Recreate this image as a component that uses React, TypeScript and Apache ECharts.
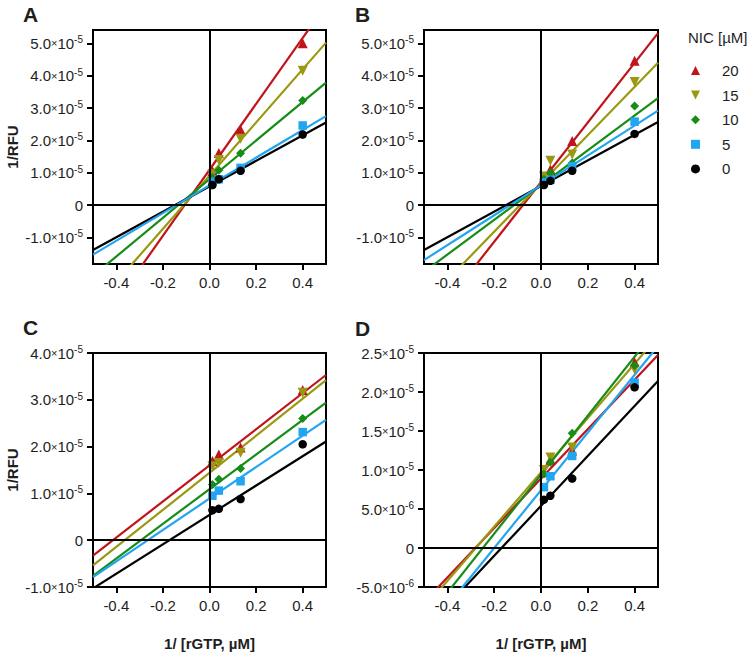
import React, { useEffect, useRef } from 'react';
import * as echarts from 'echarts';

// x positions: 1/[rGTP, µM]
const xValues = [0.0125, 0.04, 0.1333, 0.4];
const xTicks = [-0.4, -0.2, 0, 0.2, 0.4];
const xRange = [-0.5, 0.5];

// legend / series levels (NIC µM)
const nicLevels = ['20', '15', '10', '5', '0'];
const colors = ['#C0141C', '#999911', '#178C17', '#22A5F0', '#000000'];
const symbols = ['triangle', 'triangle', 'diamond', 'rect', 'circle'];
const symbolRotates = [0, 180, 0, 0, 0];
const symbolSizes = [10, 10, 9, 8.5, 8.5];
const legendIcons = ['triangle', 'path://M0,0L10,0L5,10Z', 'diamond', 'rect', 'circle'];

// 1/RFU values in units of 1e-5, one row per NIC level (20, 15, 10, 5, 0)
const panelAValues = [
  [1.05, 1.61, 2.33, 5.0],
  [0.95, 1.39, 2.05, 4.15],
  [0.85, 1.08, 1.6, 3.23],
  [0.72, 0.8, 1.15, 2.46],
  [0.62, 0.8, 1.06, 2.18],
];
const panelBValues = [
  [0.85, 1.1, 1.98, 4.46],
  [0.88, 1.37, 1.56, 3.8],
  [0.8, 1.0, 1.3, 3.06],
  [0.7, 0.78, 1.2, 2.58],
  [0.62, 0.75, 1.06, 2.2],
];
const panelCValues = [
  [1.69, 1.83, 1.98, 3.21],
  [1.58, 1.65, 1.87, 3.15],
  [1.19, 1.3, 1.53, 2.6],
  [0.95, 1.06, 1.26, 2.31],
  [0.64, 0.67, 0.88, 2.05],
];
const panelDValues = [
  [0.97, 1.13, 1.25, 2.38],
  [1.0, 1.16, 1.29, 2.29],
  [0.95, 1.1, 1.47, 2.34],
  [0.78, 0.92, 1.18, 2.12],
  [0.62, 0.67, 0.89, 2.06],
];

// fitted lines [slope, intercept] in units of 1e-5
const panelAFits = [[10.19, 1.09], [8.22, 0.91], [5.97, 0.8], [4.28, 0.61], [3.94, 0.58]];
const panelBFits = [[9.21, 0.71], [7.46, 0.67], [5.37, 0.62], [4.62, 0.61], [3.96, 0.59]];
const panelCFits = [[3.86, 1.6], [3.96, 1.44], [3.7, 1.09], [3.36, 0.89], [3.14, 0.54]];
const panelDFits = [[3.17, 0.89], [3.48, 0.97], [3.78, 0.94], [3.7, 0.74], [3.2, 0.54]];

// y axis ranges and ticks (units of 1e-5)
const yRangeAB = [-1.82, 5.41];
const yTicksAB = [-1, 0, 1, 2, 3, 4, 5];
const yRangeC = [-1, 4];
const yTicksC = [-1, 0, 1, 2, 3, 4];
const yRangeD = [-0.5, 2.5];
const yTicksD = [-0.5, 0, 0.5, 1, 1.5, 2, 2.5];

const panelLetters = ['A', 'B', 'C', 'D'];
const yTitle = '1/RFU';
const xTitle = '1/ [rGTP, µM]';
const legendTitle = 'NIC [µM]';

const FONT = "'Liberation Sans', Arial, Helvetica, sans-serif";
const TEXT = '#1e1e1e';

const panels = [
  { values: panelAValues, fits: panelAFits, yRange: yRangeAB, yTicks: yTicksAB, grid: { left: 93, top: 30, width: 233, height: 234 } },
  { values: panelBValues, fits: panelBFits, yRange: yRangeAB, yTicks: yTicksAB, grid: { left: 424, top: 30, width: 234, height: 234 } },
  { values: panelCValues, fits: panelCFits, yRange: yRangeC, yTicks: yTicksC, grid: { left: 93, top: 353, width: 233, height: 234 } },
  { values: panelDValues, fits: panelDFits, yRange: yRangeD, yTicks: yTicksD, grid: { left: 424, top: 353, width: 234, height: 234 } },
];

const lineDrawOrder = [0, 1, 2, 4, 3];

function yLabel(v: number): string {
  if (Math.abs(v) < 1e-9) return '{m|0}';
  let mant = v;
  let exp = -5;
  if (Math.abs(v) < 1) {
    mant = v * 10;
    exp = -6;
  }
  return `{m|${mant.toFixed(1)}}{x|×}{m|10}{s|${exp}}`;
}

export default function App() {
  const ref = useRef<HTMLDivElement>(null);

  useEffect(() => {
    if (!ref.current) return;
    const chart = echarts.init(ref.current, null, { renderer: 'svg' });

    const grids: any[] = [];
    const xAxes: any[] = [];
    const yAxes: any[] = [];
    const series: any[] = [];

    panels.forEach((panel, p) => {
      grids.push({
        ...panel.grid,
        show: true,
        borderColor: '#000',
        borderWidth: 2,
        backgroundColor: 'transparent',
        containLabel: false,
      });
      xAxes.push({
        type: 'value',
        gridIndex: p,
        min: xRange[0],
        max: xRange[1],
        axisLine: { show: false, onZero: false },
        splitLine: { show: false },
        axisTick: { show: true, length: 6, lineStyle: { color: '#000', width: 2 }, customValues: xTicks },
        axisLabel: {
          customValues: xTicks,
          margin: 11,
          fontSize: 15,
          color: TEXT,
          fontFamily: FONT,
          formatter: (v: number) => v.toFixed(1),
        },
      });
      yAxes.push({
        type: 'value',
        gridIndex: p,
        min: panel.yRange[0],
        max: panel.yRange[1],
        axisLine: { show: false, onZero: false },
        splitLine: { show: false },
        axisTick: { show: true, length: 6, lineStyle: { color: '#000', width: 2 }, customValues: panel.yTicks },
        axisLabel: {
          customValues: panel.yTicks,
          margin: 10,
          color: TEXT,
          fontFamily: FONT,
          formatter: (v: number) => yLabel(v),
          rich: {
            m: { fontSize: 15, color: TEXT, fontFamily: FONT, lineHeight: 17 },
            x: { fontSize: 11, color: TEXT, fontFamily: FONT, lineHeight: 17 },
            s: { fontSize: 10, color: TEXT, fontFamily: FONT, verticalAlign: 'top', lineHeight: 10 },
          },
        },
      });

      // zero lines
      series.push({
        type: 'line',
        name: `zero-${p}`,
        xAxisIndex: p,
        yAxisIndex: p,
        data: [],
        silent: true,
        z: 1,
        markLine: {
          silent: true,
          symbol: ['none', 'none'],
          label: { show: false },
          lineStyle: { color: '#000', width: 2, type: 'solid' },
          emphasis: { disabled: true },
          data: [{ xAxis: 0 }, { yAxis: 0 }],
        },
      });

      lineDrawOrder.forEach((s) => {
        const [m, b] = panel.fits[s];
        series.push({
          type: 'line',
          name: `fit-${p}-${s}`,
          xAxisIndex: p,
          yAxisIndex: p,
          data: [
            [xRange[0], b + m * xRange[0]],
            [xRange[1], b + m * xRange[1]],
          ],
          symbol: 'none',
          showSymbol: false,
          clip: true,
          silent: true,
          z: 2,
          lineStyle: { color: colors[s], width: 2.2 },
          itemStyle: { color: colors[s] },
        });
      });

      nicLevels.forEach((name, s) => {
        series.push({
          type: 'scatter',
          name,
          xAxisIndex: p,
          yAxisIndex: p,
          data: xValues.map((x, i) => [x, panel.values[s][i]]),
          symbol: symbols[s],
          symbolRotate: symbolRotates[s],
          symbolSize: symbolSizes[s],
          itemStyle: { color: colors[s], opacity: 1 },
          z: 3,
        });
      });
    });

    const graphic: any[] = [];
    const letterPos = [
      [23, 14],
      [355, 14],
      [23, 327],
      [355, 328],
    ];
    panelLetters.forEach((t, i) => {
      graphic.push({
        type: 'text',
        x: letterPos[i][0],
        y: letterPos[i][1],
        style: { text: t, fontSize: 21, fontWeight: 'bold', fontFamily: FONT, fill: TEXT, align: 'left', verticalAlign: 'middle' },
      });
    });
    [147, 470].forEach((y) => {
      graphic.push({
        type: 'text',
        x: 12,
        y,
        rotation: Math.PI / 2,
        style: { text: yTitle, fontSize: 15, fontWeight: 'bold', fontFamily: FONT, fill: TEXT, align: 'center', verticalAlign: 'middle' },
      });
    });
    [209.5, 541].forEach((x) => {
      graphic.push({
        type: 'text',
        x,
        y: 643,
        style: { text: xTitle, fontSize: 15, fontWeight: 'bold', fontFamily: FONT, fill: TEXT, align: 'center', verticalAlign: 'middle' },
      });
    });
    graphic.push({
      type: 'text',
      x: 688,
      y: 37,
      style: { text: legendTitle, fontSize: 15, fontFamily: FONT, fill: TEXT, align: 'left', verticalAlign: 'middle' },
    });

    chart.setOption({
      animation: false,
      backgroundColor: '#ffffff',
      grid: grids,
      xAxis: xAxes,
      yAxis: yAxes,
      series,
      graphic,
      legend: {
        orient: 'vertical',
        left: 686,
        top: 58,
        itemWidth: 9,
        itemHeight: 9,
        itemGap: 9.6,
        selectedMode: false,
        symbolRotate: 0,
        textStyle: { fontSize: 15, color: TEXT, fontFamily: FONT, padding: [0, 0, 0, 17] },
        data: nicLevels.map((name, i) => ({ name, icon: legendIcons[i] })),
      },
    });

    return () => chart.dispose();
  }, []);

  return <div ref={ref} style={{ position: 'absolute', left: 0, top: 0, width: 750, height: 657 }} />;
}
